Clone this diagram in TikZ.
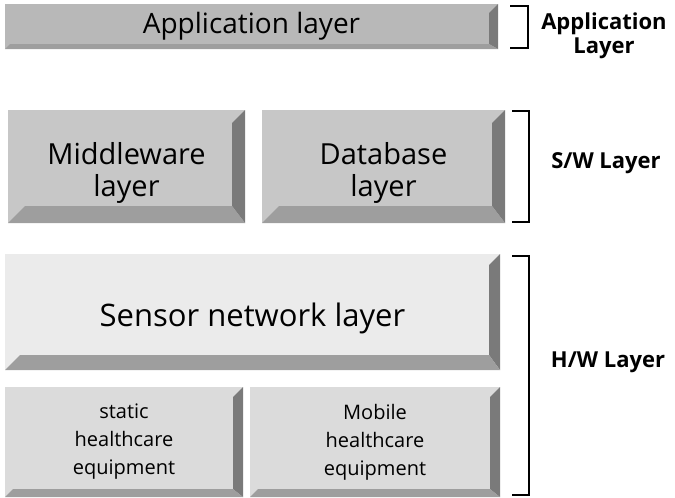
\documentclass[tikz,border=0pt]{standalone}
\usepackage{fontspec}
\setmainfont{Open Sans}
\tikzset{
  bevR/.style={fill=black!52},
  bevB/.style={fill=black!38},
  btn/.style={inner sep=0pt, align=center, text=black},
  bev/.style 2 args={path picture={
    \coordinate (pa) at (path picture bounding box.north east);
    \coordinate (pb) at (path picture bounding box.south east);
    \coordinate (pc) at (path picture bounding box.south west);
    \fill[bevR] (pa) -- (pb) -- ([shift={(-#1,-#2)}]pb) -- ([shift={(-#1,#1)}]pa) -- cycle;
    \fill[bevB] (pc) -- (pb) -- ([shift={(-#1,-#2)}]pb) -- ([shift={(#2,-#2)}]pc) -- cycle;
  }},
  side/.style={font=\bfseries\fontsize{22}{24}\selectfont, align=center},
}
\begin{document}
\begin{tikzpicture}[x=1pt,y=-1pt]
\useasboundingbox (0,0) rectangle (675,498);

% Application layer
\node[btn, fill=black!28, bev={9}{5}, minimum width=493pt, minimum height=45pt,
  font=\fontsize{28}{30}\selectfont] (app) at (251.5,26.5) {Application layer};

% S/W boxes
\node[btn, fill=black!22, bev={13}{17}, minimum width=237pt, minimum height=113pt,
  text height=66pt, text depth=7pt,
  font=\fontsize{29}{32}\selectfont] (mid) at (126.5,166.5) {Middleware\\layer};
\node[btn, fill=black!22, bev={13}{17}, minimum width=243pt, minimum height=113pt,
  text height=66pt, text depth=7pt,
  font=\fontsize{29}{32}\selectfont] (db) at (383.5,166.5) {Database\\layer};

% H/W boxes
\node[btn, fill=black!8, bev={11}{15}, minimum width=495pt, minimum height=116pt,
  text height=36pt, text depth=7pt,
  font=\fontsize{31}{34}\selectfont] (sen) at (252.5,312) {Sensor network layer};
\node[btn, fill=black!14, bev={10}{8}, minimum width=238pt, minimum height=110pt,
  font=\fontsize{20}{28}\selectfont] (sta) at (124,442) {static\\healthcare\\equipment};
\node[btn, fill=black!14, bev={10}{8}, minimum width=250pt, minimum height=110pt,
  font=\fontsize{20}{28}\selectfont] (mob) at (375,442) {Mobile\\healthcare\\equipment};

% Brackets
\coordinate (a1) at (510,6);   \coordinate (a2) at (510,48);
\coordinate (s1) at (512,111); \coordinate (s2) at (512,222);
\coordinate (h1) at (512,256); \coordinate (h2) at (512,495);
\draw[line width=1.4pt] (a1) -- ++(18,0) |- (a2);
\draw[line width=1.4pt] (s1) -- ++(17,0) |- (s2);
\draw[line width=1.4pt] (h1) -- ++(17,0) |- (h2);

% Labels
\node[side] (la) at (604,36) {Application\\Layer};
\node[side] (ls) at (606,163) {S/W Layer};
\node[side] (lh) at (608,362) {H/W Layer};
\end{tikzpicture}
\end{document}
